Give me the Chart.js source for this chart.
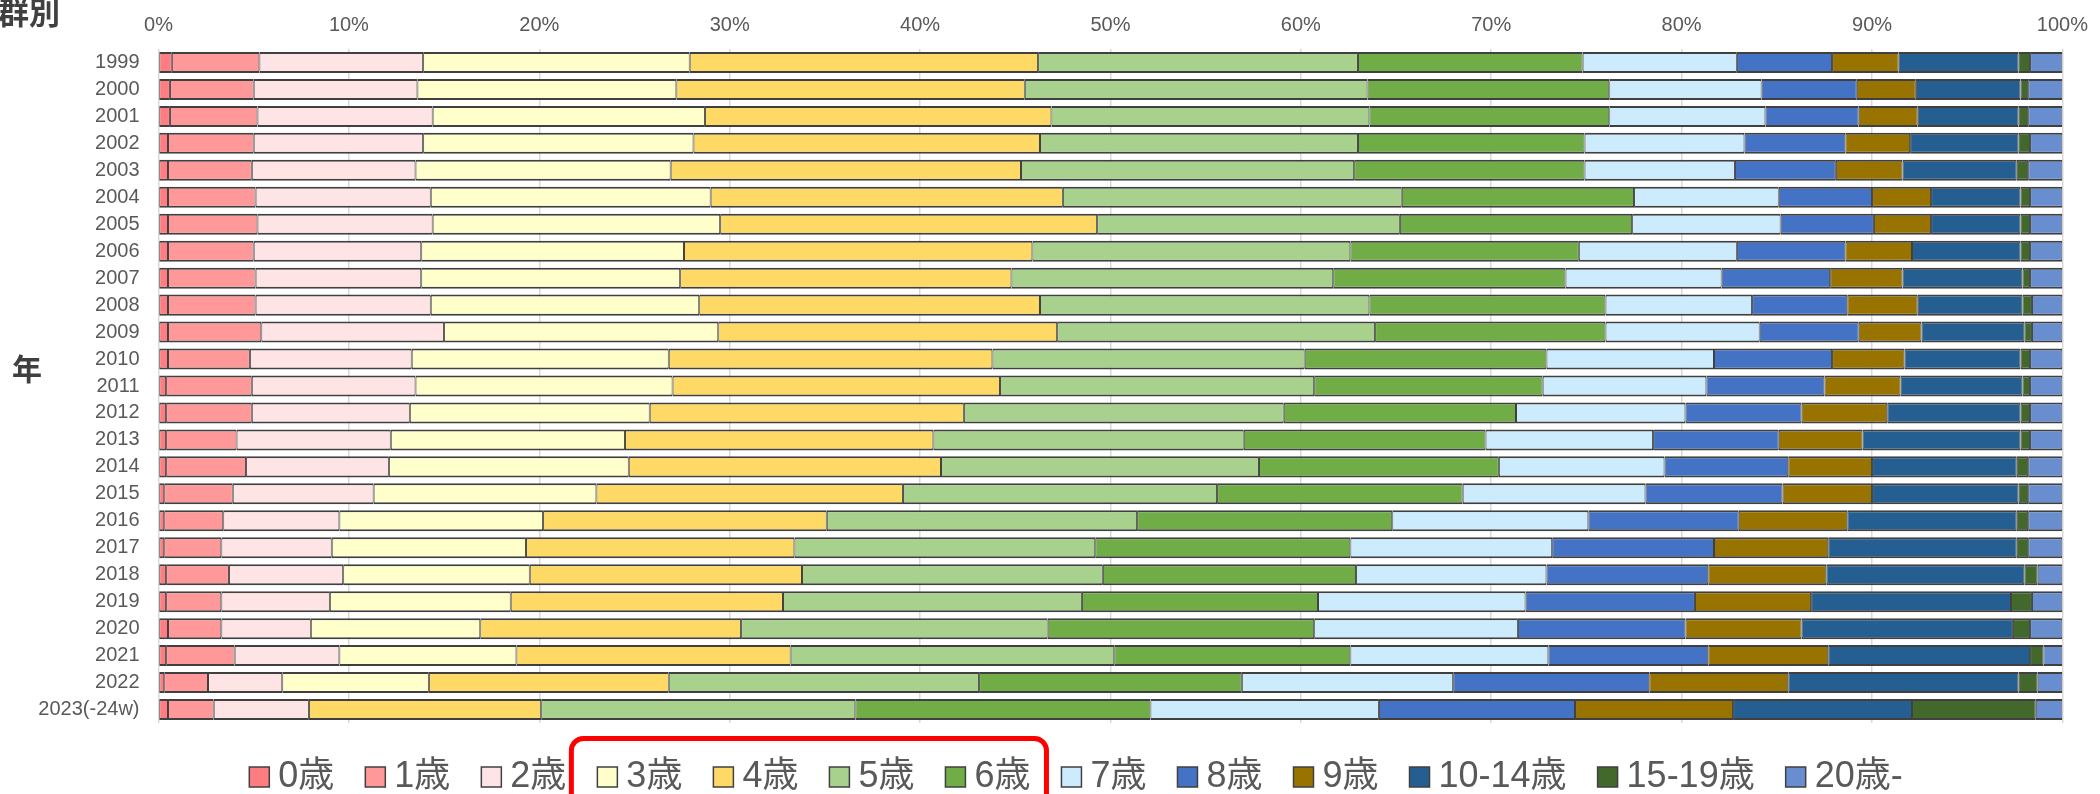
<!DOCTYPE html>
<html lang="ja">
<head>
<meta charset="utf-8">
<title>年齢群別の割合</title>
<script src="https://cdn.jsdelivr.net/npm/chart.js@4.4.0/dist/chart.umd.min.js"></script>
<style>
  html, body { margin: 0; padding: 0; background: #fff; }
  #wrap { width: 2100px; height: 794px; }
</style>
</head>
<body>
<div id="wrap"><canvas id="ageChart" width="2100" height="794"></canvas></div>
<script>
// years (top to bottom)
const years = [
  "1999", "2000", "2001", "2002", "2003", "2004", "2005", "2006", "2007",
  "2008", "2009", "2010", "2011", "2012", "2013", "2014", "2015", "2016",
  "2017", "2018", "2019", "2020", "2021", "2022", "2023(-24w)"
];

const ageGroups = [
  "0歳", "1歳", "2歳", "3歳", "4歳", "5歳", "6歳", "7歳", "8歳", "9歳",
  "10-14歳", "15-19歳", "20歳-"
];

const groupColors = [
  "#FF7C80", "#FF9999", "#FFE4E6", "#FFFFCC", "#FFD966", "#A9D18E", "#70AD47",
  "#CCEBFD", "#4472C4", "#997300", "#255E91", "#43682B", "#698ED0"
];

const xTicks = [0, 10, 20, 30, 40, 50, 60, 70, 80, 90, 100];

// share of reports per age group, % of the year total
const age0 = [0.7, 0.6, 0.6, 0.5, 0.5, 0.5, 0.5, 0.5, 0.5, 0.5, 0.5, 0.5, 0.4, 0.4, 0.4, 0.4, 0.3, 0.3, 0.3, 0.4, 0.4, 0.5, 0.4, 0.3, 0.5];
const age1 = [4.6, 4.4, 4.6, 4.5, 4.4, 4.6, 4.7, 4.5, 4.6, 4.6, 4.9, 4.3, 4.5, 4.5, 3.7, 4.2, 3.6, 3.1, 3.0, 3.3, 2.9, 2.8, 3.6, 2.3, 2.4];
const age2 = [8.6, 8.6, 9.2, 8.9, 8.6, 9.2, 9.2, 8.8, 8.7, 9.2, 9.6, 8.5, 8.6, 8.3, 8.1, 7.5, 7.4, 6.1, 5.8, 6.0, 5.7, 4.7, 5.5, 3.9, 5.0];
const age3 = [14.0, 13.6, 14.3, 14.2, 13.4, 14.7, 15.1, 13.8, 13.6, 14.1, 14.4, 13.5, 13.5, 12.6, 12.3, 12.6, 11.7, 10.7, 10.2, 9.8, 9.5, 8.9, 9.3, 7.7, null];
const age4 = [18.3, 18.3, 18.2, 18.2, 18.4, 18.5, 19.8, 18.3, 17.4, 17.9, 17.8, 17.0, 17.2, 16.5, 16.2, 16.4, 16.1, 14.9, 14.1, 14.3, 14.3, 13.7, 14.4, 12.6, 12.2];
const age5 = [16.8, 18.0, 16.7, 16.7, 17.5, 17.8, 15.9, 16.7, 16.9, 17.3, 16.7, 16.4, 16.5, 16.8, 16.3, 16.7, 16.5, 16.3, 15.8, 15.8, 15.7, 16.1, 17.0, 16.3, 16.5];
const age6 = [11.8, 12.7, 12.6, 11.9, 12.1, 12.2, 12.2, 12.0, 12.2, 12.4, 12.1, 12.7, 12.0, 12.2, 12.7, 12.6, 12.9, 13.4, 13.4, 13.3, 12.4, 14.0, 12.4, 13.8, 15.5];
const age7 = [8.1, 8.0, 8.2, 8.4, 7.9, 7.6, 7.8, 8.3, 8.2, 7.7, 8.1, 8.8, 8.6, 8.9, 8.8, 8.7, 9.6, 10.3, 10.6, 10.0, 10.9, 10.7, 10.4, 11.1, 12.0];
const age8 = [5.0, 5.0, 4.9, 5.3, 5.3, 4.9, 4.9, 5.7, 5.7, 5.0, 5.2, 6.2, 6.2, 6.1, 6.6, 6.5, 7.2, 7.9, 8.5, 8.5, 8.9, 8.8, 8.4, 10.3, 10.3];
const age9 = [3.5, 3.1, 3.1, 3.4, 3.5, 3.1, 3.0, 3.5, 3.8, 3.7, 3.3, 3.8, 4.0, 4.5, 4.4, 4.4, 4.7, 5.7, 6.0, 6.2, 6.1, 6.1, 6.3, 7.3, 8.3];
const age10to14 = [6.3, 5.5, 5.3, 5.7, 6.0, 4.7, 4.7, 5.7, 6.3, 5.5, 5.4, 6.1, 6.4, 7.0, 8.3, 7.6, 7.7, 8.9, 9.9, 10.4, 10.5, 11.1, 10.6, 12.1, 9.4];
const age15to19 = [0.6, 0.4, 0.5, 0.6, 0.6, 0.5, 0.5, 0.5, 0.4, 0.5, 0.4, 0.5, 0.4, 0.5, 0.5, 0.6, 0.5, 0.6, 0.6, 0.7, 1.1, 0.9, 0.7, 1.0, 6.5];
const age20plus = [1.7, 1.8, 1.8, 1.7, 1.8, 1.7, 1.7, 1.7, 1.7, 1.6, 1.6, 1.7, 1.7, 1.7, 1.7, 1.8, 1.8, 1.8, 1.8, 1.3, 1.6, 1.7, 1.0, 1.3, 1.4];

const seriesValues = [
  age0, age1, age2, age3, age4, age5, age6, age7, age8, age9,
  age10to14, age15to19, age20plus
];

const FONT = "'Liberation Sans', Arial, 'Noto Sans CJK JP', sans-serif";
const TEXT_GRAY = "#595959";

// titles, legend and the highlight frame around 3-6歳
const extrasPlugin = {
  id: "extras",
  afterDraw(chart) {
    const ctx = chart.ctx;
    ctx.save();

    ctx.fillStyle = "#404040";
    ctx.font = "bold 31px 'Noto Sans CJK JP', sans-serif";
    ctx.textBaseline = "middle";
    ctx.textAlign = "left";
    ctx.fillText("群別", -2, 12);
    ctx.font = "bold 30px 'Noto Sans CJK JP', sans-serif";
    ctx.textAlign = "center";
    ctx.fillText("年", 27, 369);

    // legend row
    const boxSize = 20, boxGap = 9, itemGap = 31;
    const legendY = 777;
    const centerX = 1076;
    ctx.font = "36px " + FONT;
    const items = chart.data.datasets.map((ds) => ({
      label: ds.label,
      color: ds.backgroundColor,
      w: ctx.measureText(ds.label).width,
    }));
    let total = 0;
    items.forEach((it, i) => {
      total += boxSize + boxGap + it.w + (i < items.length - 1 ? itemGap : 0);
    });
    let x = centerX - total / 2;
    ctx.textAlign = "left";
    items.forEach((it) => {
      it.x = x;
      ctx.fillStyle = it.color;
      ctx.fillRect(x, legendY - boxSize / 2, boxSize, boxSize);
      ctx.strokeStyle = "#404040";
      ctx.lineWidth = 1.5;
      ctx.strokeRect(x, legendY - boxSize / 2, boxSize, boxSize);
      ctx.fillStyle = TEXT_GRAY;
      ctx.fillText(it.label, x + boxSize + boxGap, legendY);
      it.end = x + boxSize + boxGap + it.w;
      x = it.end + itemGap;
    });

    // red frame around 3歳..6歳
    const left = items[3].x - 26;
    const right = items[6].end + 16;
    ctx.strokeStyle = "#FF0000";
    ctx.lineWidth = 5;
    ctx.beginPath();
    ctx.roundRect(left, 738.5, right - left, 100, 12);
    ctx.stroke();

    ctx.restore();
  },
};

const datasets = ageGroups.map((label, i) => ({
  label: label,
  data: seriesValues[i],
  backgroundColor: groupColors[i],
  borderColor: "#404040",
  borderWidth: { top: 2, bottom: 2, left: 1, right: 1 },
  borderSkipped: false,
  barPercentage: 0.78,
  categoryPercentage: 1.0,
}));

new Chart(document.getElementById("ageChart"), {
  type: "bar",
  data: { labels: years, datasets: datasets },
  options: {
    indexAxis: "y",
    responsive: false,
    animation: false,
    devicePixelRatio: 1,
    layout: { padding: { top: 13, right: 31, bottom: 71, left: 0 } },
    plugins: {
      legend: { display: false },
      tooltip: { enabled: false },
    },
    scales: {
      x: {
        stacked: true,
        position: "top",
        min: 0,
        max: 100,
        afterBuildTicks: (scale) => {
          scale.ticks = xTicks.map((v) => ({ value: v }));
        },
        afterFit: (scale) => {
          scale.height = 36;
        },
        ticks: {
          callback: (v) => v + "%",
          font: { family: FONT, size: 20 },
          color: TEXT_GRAY,
          padding: 12,
        },
        grid: { color: "#d9d9d9", lineWidth: 1.5, drawTicks: false },
        border: { display: false },
      },
      y: {
        stacked: true,
        afterFit: (scale) => {
          scale.width = 158.5;
          scale.paddingTop = 0;
          scale.paddingBottom = 0;
        },
        ticks: {
          autoSkip: false,
          font: { family: FONT, size: 20 },
          color: TEXT_GRAY,
          padding: 19,
        },
        grid: { display: false, drawTicks: false },
        border: { display: false },
      },
    },
  },
  plugins: [extrasPlugin],
});
</script>
</body>
</html>
